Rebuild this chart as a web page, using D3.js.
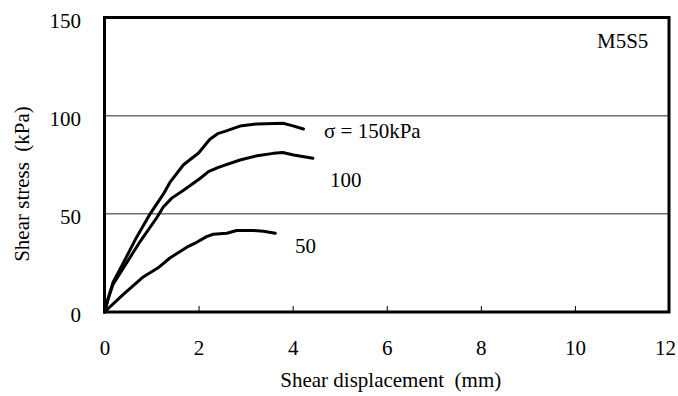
<!DOCTYPE html>
<html>
<head>
<meta charset="utf-8">
<script src="https://cdn.jsdelivr.net/npm/d3@7"></script>
<style>
  html, body { margin: 0; padding: 0; background: #fff; }
  svg { display: block; }
  text { font-family: "Liberation Serif", "Times New Roman", serif; fill: #000; white-space: pre; }
</style>
</head>
<body>
<svg id="chart" width="678" height="396"></svg>
<script>
// Shear stress vs. shear displacement, specimen M5S5, three normal stresses
const dispTicks = [0, 2, 4, 6, 8, 10, 12];
const stressTicks = [0, 50, 100, 150];
const gridStress = [50, 100];

// [displacement (mm), shear stress (kPa)]
const curve150 = [
  [0, 0], [0.08, 7], [0.18, 15], [0.40, 25], [0.68, 38], [0.97, 50],
  [1.25, 60], [1.39, 66], [1.68, 75], [2.0, 81], [2.24, 88], [2.42, 91],
  [2.56, 92], [2.88, 94.7], [3.24, 95.8], [3.79, 96.1], [3.95, 95.2], [4.23, 93.2]
];
const curve100 = [
  [0, 0], [0.08, 7], [0.18, 14], [0.47, 25], [0.76, 36], [1.11, 48],
  [1.25, 53.5], [1.43, 58], [1.68, 62], [2.03, 68], [2.21, 71.5], [2.42, 73.7],
  [2.88, 77.4], [3.24, 79.6], [3.59, 80.8], [3.79, 81.2], [4.02, 80], [4.43, 78.3]
];
const curve50 = [
  [0, 0], [0.4, 9], [0.83, 18], [1.14, 22.5], [1.39, 27.5], [1.75, 33],
  [1.96, 35.5], [2.17, 38.4], [2.31, 39.6], [2.60, 40.1], [2.81, 41.5],
  [3.17, 41.5], [3.38, 41.1], [3.63, 40.1]
];
const seriesList = [curve150, curve100, curve50];
const seriesLabels = [
  { text: "σ = 150kPa", x: 324, y: 138 },
  { text: "100", x: 330, y: 187 },
  { text: "50", x: 295, y: 253 }
];
const panelLabel = "M5S5";
const xTitle = "Shear displacement  (mm)";
const yTitle = "Shear stress  (kPa)";

const plotLeft = 104.5, plotRight = 669, plotTop = 17.5, plotBottom = 312;
const svg = d3.select("#chart");

const x = d3.scaleLinear().domain([0, 12]).range([plotLeft, plotRight]);
const y = d3.scaleLinear().domain([0, 150]).range([plotBottom, plotTop]);

// horizontal grid lines
svg.append("g")
  .selectAll("line")
  .data(gridStress)
  .join("line")
  .attr("x1", plotLeft).attr("x2", plotRight)
  .attr("y1", d => y(d)).attr("y2", d => y(d))
  .attr("stroke", "#6e6e6e")
  .attr("stroke-width", 1.5);

// bottom axis: inward ticks, labels below
const xAxis = svg.append("g")
  .attr("transform", `translate(0,${plotBottom})`)
  .call(d3.axisBottom(x).tickValues(dispTicks).tickSize(-6).tickPadding(0).tickFormat(d3.format("d")));
xAxis.select(".domain").remove();
xAxis.selectAll(".tick line").attr("stroke", "#000").attr("stroke-width", 1)
  .attr("display", d => (d === 0 || d === 12) ? "none" : null);
xAxis.selectAll(".tick text")
  .attr("y", 43).attr("dy", null)
  .attr("x", d => d === 12 ? -4 : 0)
  .style("font-size", "21px")
  .attr("font-family", null);

// left axis labels
const yAxis = svg.append("g")
  .attr("transform", `translate(${plotLeft},0)`)
  .call(d3.axisLeft(y).tickValues(stressTicks).tickSize(0).tickPadding(0));
yAxis.select(".domain").remove();
yAxis.selectAll(".tick text")
  .attr("x", -23.5).attr("dy", null).attr("y", 9.5)
  .style("font-size", "21px")
  .attr("font-family", null);

// curves
const line = d3.line().x(d => x(d[0])).y(d => y(d[1]));
svg.append("g")
  .selectAll("path")
  .data(seriesList)
  .join("path")
  .attr("d", line)
  .attr("fill", "none")
  .attr("stroke", "#000")
  .attr("stroke-width", 3)
  .attr("stroke-linejoin", "round")
  .attr("stroke-linecap", "round");

// frame
svg.append("rect")
  .attr("x", plotLeft).attr("y", plotTop)
  .attr("width", plotRight - plotLeft).attr("height", plotBottom - plotTop)
  .attr("fill", "none")
  .attr("stroke", "#000")
  .attr("stroke-width", 3);

// series labels
svg.append("g")
  .selectAll("text")
  .data(seriesLabels)
  .join("text")
  .attr("x", d => d.x).attr("y", d => d.y)
  .style("font-size", "21px")
  .text(d => d.text);

svg.append("text")
  .attr("x", 597).attr("y", 48)
  .style("font-size", "21px")
  .text(panelLabel);

// axis titles
svg.append("text")
  .attr("x", (plotLeft + plotRight) / 2 + 4).attr("y", 387)
  .attr("text-anchor", "middle")
  .style("font-size", "21px")
  .text(xTitle);

svg.append("text")
  .attr("transform", `translate(29,${184}) rotate(-90)`)
  .attr("text-anchor", "middle")
  .style("font-size", "21px")
  .text(yTitle);
</script>
</body>
</html>
